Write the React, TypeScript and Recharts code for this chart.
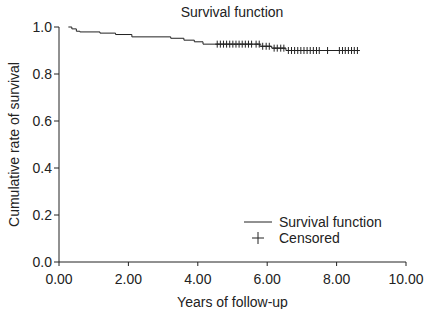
import React from 'react';
import { ComposedChart, Line, Scatter, XAxis, YAxis } from 'recharts';

const stepTimes = [0.27, 0.37, 0.5, 0.6, 1.18, 1.63, 2.1, 3.22, 3.6, 3.9, 4.15, 5.79, 6.13, 6.54, 8.67];
const stepSurvival = [1.0, 0.992, 0.982, 0.979, 0.974, 0.968, 0.958, 0.952, 0.944, 0.937, 0.927, 0.918, 0.91, 0.9, 0.9];

const censoredTimes = [
  4.56, 4.65, 4.74, 4.83, 4.92, 5.01, 5.1, 5.19, 5.28, 5.37, 5.46, 5.55, 5.68, 5.77,
  5.87, 5.97, 6.06,
  6.2, 6.29, 6.39, 6.48,
  6.61, 6.7, 6.79, 6.88, 6.97, 7.06, 7.15, 7.24, 7.33, 7.42, 7.5,
  7.74,
  8.08, 8.17, 8.25, 8.34, 8.43, 8.51, 8.6,
];
const censoredSurvival = [
  0.927, 0.927, 0.927, 0.927, 0.927, 0.927, 0.927, 0.927, 0.927, 0.927, 0.927, 0.927, 0.927, 0.927,
  0.918, 0.918, 0.918,
  0.91, 0.91, 0.91, 0.91,
  0.9, 0.9, 0.9, 0.9, 0.9, 0.9, 0.9, 0.9, 0.9, 0.9, 0.9,
  0.9,
  0.9, 0.9, 0.9, 0.9, 0.9, 0.9, 0.9,
];

const xTicks = [0, 2, 4, 6, 8, 10];
const yTicks = [0, 0.2, 0.4, 0.6, 0.8, 1.0];

const title = 'Survival function';
const xLabel = 'Years of follow-up';
const yLabel = 'Cumulative rate of survival';
const legendLine = 'Survival function';
const legendCensor = 'Censored';

const stepData = stepTimes.map((t, i) => ({ t, s: stepSurvival[i] }));
const censorData = censoredTimes.map((t, i) => ({ t, s: censoredSurvival[i] }));

const FONT = '"Liberation Sans", Arial, sans-serif';
const INK = '#222';
const FS = 14;

const PlusShape = (props: any) => {
  const { cx, cy } = props;
  if (cx == null || cy == null) return null;
  return (
    <g>
      <line x1={cx} x2={cx} y1={cy - 3.5} y2={cy + 3.5} stroke={INK} strokeWidth={1} />
      <line x1={cx - 2} x2={cx + 2} y1={cy} y2={cy} stroke={INK} strokeWidth={1} />
    </g>
  );
};

export default function App() {
  return (
    <div style={{ position: 'absolute', left: 0, top: 0, width: 438, height: 309, background: '#fff' }}>
      <ComposedChart
        width={438}
        height={309}
        margin={{ top: 27, right: 32, left: 0, bottom: 0 }}
        style={{ position: 'absolute', left: 0, top: 0 }}
      >
        <text x={232} y={17} textAnchor="middle" fontFamily={FONT} fontSize={FS} fill={INK}>
          {title}
        </text>
        <XAxis
          type="number"
          dataKey="t"
          domain={[0, 10]}
          ticks={xTicks}
          tickFormatter={(v: number) => v.toFixed(2)}
          height={47}
          stroke={INK}
          tickSize={4}
          tickMargin={8}
          tick={{ fill: INK, fontSize: FS, fontFamily: FONT }}
          allowDataOverflow
          label={{ value: xLabel, position: 'insideBottom', offset: 2, fill: INK, fontSize: FS, fontFamily: FONT }}
        />
        <YAxis
          type="number"
          dataKey="s"
          domain={[0, 1]}
          ticks={yTicks}
          tickFormatter={(v: number) => v.toFixed(1)}
          width={59}
          stroke={INK}
          tickSize={5}
          tick={{ fill: INK, fontSize: FS, fontFamily: FONT }}
          label={{
            value: yLabel,
            angle: -90,
            position: 'insideLeft',
            offset: 14,
            style: { textAnchor: 'middle' },
            fill: INK,
            fontSize: FS,
            fontFamily: FONT,
          }}
        />
        <Line
          data={stepData}
          dataKey="s"
          type="stepAfter"
          stroke={INK}
          strokeWidth={1}
          dot={false}
          activeDot={false}
          isAnimationActive={false}
          legendType="none"
        />
        <Scatter
          data={censorData}
          dataKey="s"
          shape={PlusShape}
          isAnimationActive={false}
          legendType="none"
        />
        <g fontFamily={FONT} fontSize={FS} fill={INK}>
          <line x1={244} x2={272} y1={222} y2={222} stroke={INK} strokeWidth={1} />
          <text x={279} y={222} dominantBaseline="central">{legendLine}</text>
          <line x1={258} x2={258} y1={232} y2={244} stroke={INK} strokeWidth={1} />
          <line x1={252} x2={264} y1={238} y2={238} stroke={INK} strokeWidth={1} />
          <text x={279} y={238} dominantBaseline="central">{legendCensor}</text>
        </g>
      </ComposedChart>
    </div>
  );
}
